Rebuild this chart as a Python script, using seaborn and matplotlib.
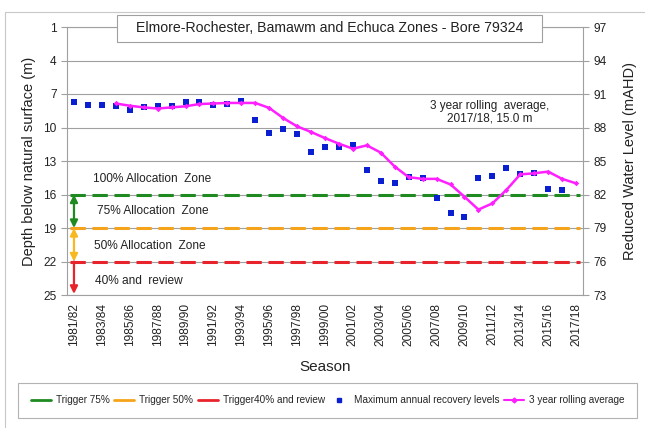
import numpy as np
import pandas as pd
import matplotlib
matplotlib.use("Agg")
import matplotlib.pyplot as plt
from matplotlib.lines import Line2D
from matplotlib.patches import Rectangle
import seaborn as sns

sns.set_theme(style="white")
plt.rcParams['font.family'] = ['Liberation Sans', 'DejaVu Sans']

# DATA
seasons = ["1981/82", "1982/83", "1983/84", "1984/85", "1985/86", "1986/87", "1987/88",
           "1988/89", "1989/90", "1990/91", "1991/92", "1992/93", "1993/94", "1994/95",
           "1995/96", "1996/97", "1997/98", "1998/99", "1999/00", "2000/01", "2001/02",
           "2002/03", "2003/04", "2004/05", "2005/06", "2006/07", "2007/08", "2008/09",
           "2009/10", "2010/11", "2011/12", "2012/13", "2013/14", "2014/15", "2015/16",
           "2016/17", "2017/18"]

max_recovery = [7.7, 8.0, 8.0, 8.05, 8.45, 8.15, 8.05, 8.05, 7.75, 7.75, 8.0, 7.9, 7.65,
                9.35, 10.45, 10.1, 10.6, 12.2, 11.75, 11.75, 11.6, 13.8, 14.75, 14.95,
                14.4, 14.55, 16.35, 17.65, 18.0, 14.5, 14.35, 13.6, 14.2, 14.05, 15.5,
                15.6, np.nan]

rolling_avg = [np.nan, np.nan, np.nan, 7.85, 8.05, 8.2, 8.3, 8.2, 8.1, 7.9, 7.85, 7.8, 7.8,
               7.8, 8.25, 9.15, 9.9, 10.4, 10.95, 11.45, 11.9, 11.6, 12.25, 13.5, 14.45,
               14.6, 14.6, 15.1, 16.2, 17.35, 16.8, 15.6, 14.2, 14.1, 13.95, 14.6, 15.0]

trigger_75 = 16
trigger_50 = 19
trigger_40 = 22
ground_offset = 98  # mAHD = offset - depth

green = "#1f8a1f"
orange = "#f5a31a"
red = "#e8232b"
blue = "#0a1fd0"
magenta = "#ff1fff"
grey = "#a0a0a0"
txt = "#222222"

df = pd.DataFrame({"Season": seasons, "idx": np.arange(len(seasons)),
                   "Max": max_recovery, "Rolling": rolling_avg})

fig = plt.figure(figsize=(6.45, 4.28), dpi=100)
ax = fig.add_axes([67 / 645, 1 - 295 / 428, 516 / 645, 268 / 428])

# horizontal grid
for v in range(1, 26, 3):
    ax.axhline(v, color=grey, lw=0.8, zorder=0)

# trigger lines
n = len(seasons)
for lvl, col in [(trigger_75, green), (trigger_50, orange), (trigger_40, red)]:
    ax.plot([-0.3, n - 1 + 0.3], [lvl, lvl], color=col, lw=2.2,
            dashes=(5, 2.2), zorder=2)

sns.scatterplot(data=df, x="idx", y="Max", ax=ax, marker="s", s=14, color=blue,
                edgecolor=blue, linewidth=0, zorder=4)
sns.lineplot(data=df.dropna(subset=["Rolling"]), x="idx", y="Rolling", ax=ax,
             color=magenta, lw=1.8, marker="D", markersize=2.8, markeredgewidth=0,
             zorder=5)

ax.set_xlim(-0.5, n - 0.5)
ax.set_ylim(25, 1)
ax.set_yticks(range(1, 26, 3))
ax.set_xticks(range(0, n, 2))
ax.set_xticklabels(seasons[::2], rotation=90, fontsize=8.6, color=txt)
ax.set_xticks(np.arange(-0.5, n, 1), minor=True)
ax.tick_params(axis="x", which="major", length=0, pad=6)
ax.tick_params(axis="x", which="minor", length=4, color=grey, width=0.8, direction="out")
ax.tick_params(axis="y", length=4, color=grey, width=0.8, labelsize=8.6, labelcolor=txt)
ax.set_xlabel("Season", fontsize=11, labelpad=10, color=txt)
ax.set_ylabel("Depth below natural surface (m)", fontsize=10.5, labelpad=5, color=txt)
for sp in ["left", "bottom", "right", "top"]:
    ax.spines[sp].set_color(grey)
    ax.spines[sp].set_linewidth(0.8)

ax2 = ax.twinx()
ax2.set_ylim(ground_offset - 25, ground_offset - 1)
ax2.set_yticks(range(73, 98, 3))
ax2.tick_params(axis="y", length=4, color=grey, width=0.8, labelsize=8.6, labelcolor=txt)
ax2.set_ylabel("Reduced Water Level (mAHD)", fontsize=10.5, labelpad=12, color=txt)
for sp in ["left", "bottom", "right", "top"]:
    ax2.spines[sp].set_visible(False)
ax2.grid(False)

# zone arrows
arrow_kw = dict(lw=1.6, mutation_scale=11, shrinkA=0, shrinkB=0)
ax.annotate("", xy=(0, trigger_50), xytext=(0, trigger_75),
            arrowprops=dict(arrowstyle="<|-|>", color=green, **arrow_kw), zorder=6)
ax.annotate("", xy=(0, trigger_40), xytext=(0, trigger_50),
            arrowprops=dict(arrowstyle="<|-|>", color="#f7b820", **arrow_kw), zorder=6)
ax.annotate("", xy=(0, 24.9), xytext=(0, trigger_40),
            arrowprops=dict(arrowstyle="-|>", color=red, **arrow_kw), zorder=6)

zone_kw = dict(fontsize=8.6, color=txt, va="center", ha="left")
ax.text(1.4, 14.6, "100% Allocation  Zone", **zone_kw)
ax.text(1.65, 17.5, "75% Allocation  Zone", **zone_kw)
ax.text(1.45, 20.6, "50% Allocation  Zone", **zone_kw)
ax.text(1.5, 23.75, "40% and  review", **zone_kw)

ax.text(29.8, 8.65, "3 year rolling  average,\n2017/18, 15.0 m", fontsize=8.5,
        ha="center", va="center", color=txt, linespacing=1.05)

# title box straddling the top of the plot
ax.add_patch(Rectangle((0.097, 0.944), 0.823, 0.101, transform=ax.transAxes,
                       facecolor="white", edgecolor=grey, lw=0.8, clip_on=False, zorder=9))
ax.text(0.5085, 0.9945, "Elmore-Rochester, Bamawm and Echuca Zones - Bore 79324",
        transform=ax.transAxes, ha="center", va="center", fontsize=10.2, color=txt,
        zorder=10)

# legend
handles = [
    Line2D([], [], color=green, lw=2),
    Line2D([], [], color=orange, lw=2),
    Line2D([], [], color=red, lw=2),
    Line2D([], [], color=blue, lw=0, marker="s", markersize=3.5),
    Line2D([], [], color=magenta, lw=1.5, marker="D", markersize=2.5),
]
labels = ["Trigger 75%", "Trigger 50%", "Trigger40% and review",
          "Maximum annual recovery levels", "3 year rolling average"]
leg = fig.legend(handles, labels, loc="center", bbox_to_anchor=(0.508, 0.065), ncol=5,
                 fontsize=7.2, frameon=True, fancybox=False, edgecolor=grey,
                 handlelength=2.0, handletextpad=0.5, columnspacing=0.45,
                 borderpad=1.25, borderaxespad=0)
leg.get_frame().set_linewidth(0.8)

# outer frame
fig.add_artist(Line2D([5 / 645, 5 / 645], [0, 1 - 12 / 428], color="#c8c8c8", lw=0.8))
fig.add_artist(Line2D([5 / 645, 1], [1 - 12 / 428, 1 - 12 / 428], color="#c8c8c8", lw=0.8))

fig.savefig("out.png", dpi=100)
